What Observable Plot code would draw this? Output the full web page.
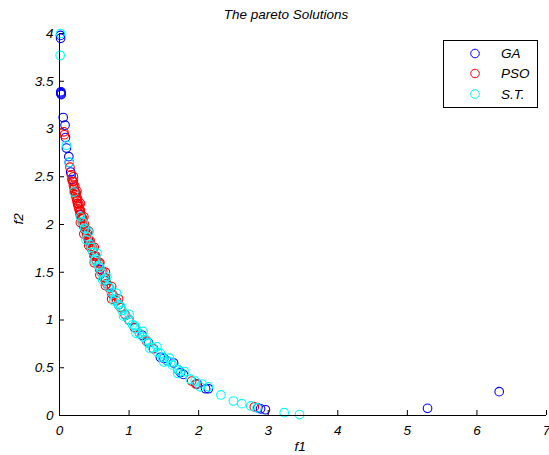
<!DOCTYPE html>
<html>
<head>
<meta charset="utf-8">
<script src="https://cdn.jsdelivr.net/npm/d3@7"></script>
<script src="https://cdn.jsdelivr.net/npm/@observablehq/plot@0.6"></script>
<style>
  html, body { margin: 0; padding: 0; background: #fff; }
  #wrap { position: relative; width: 549px; height: 455px; font-family: "Liberation Sans", Arial, sans-serif; font-style: italic; }
  #title { position: absolute; top: 7px; left: 286px; transform: translateX(-50%); font-size: 13.5px; line-height: 16px; white-space: nowrap; color: #000; }
  #legend { position: absolute; left: 443px; top: 40px; }
</style>
</head>
<body>
<div id="wrap">
  <div id="chart"></div>
  <div id="title">The pareto Solutions</div>
  <div id="legend"></div>
</div>
<script>
// ---- data (f1, f2) ----
const xTicks = [0, 1, 2, 3, 4, 5, 6, 7];
const yTicks = [0, 0.5, 1, 1.5, 2, 2.5, 3, 3.5, 4];
const seriesNames = ["GA", "PSO", "S.T."];
const seriesColors = ["#0000ff", "#ff0000", "#00ffff"];

const gaPoints = [
  [0.014, 3.98], [0.016, 3.95], [0.02, 3.39], [0.022, 3.37], [0.025, 3.36],
  [0.018, 3.38], [0.053, 3.12], [0.08, 3.04], [0.086, 2.91], [0.1, 2.80], [0.134, 2.71],
  [0.14, 2.65], [0.16, 2.55], [0.18, 2.47], [0.22, 2.34], [0.26, 2.22],
  [0.3, 2.10], [0.36, 1.96], [0.42, 1.83], [0.5, 1.67], [0.58, 1.53],
  [0.66, 1.41], [0.75, 1.28], [0.85, 1.16], [0.95, 1.05], [1.0, 1.0],
  [1.08, 0.92], [1.19, 0.84], [1.28, 0.76], [1.35, 0.70], [1.45, 0.61],
  [1.5, 0.60], [1.55, 0.57], [1.64, 0.55], [1.7, 0.48], [1.74, 0.45], [1.78, 0.43],
  [1.98, 0.33], [2.1, 0.28], [2.14, 0.28], [2.85, 0.08], [2.89, 0.07],
  [2.96, 0.06], [5.29, 0.075], [6.32, 0.25]
];

const psoPoints = [
  [0.062, 2.97], [0.07, 2.94], [0.15, 2.60], [0.17, 2.52], [0.19, 2.45],
  [0.2, 2.41], [0.2, 2.45], [0.2, 2.50], [0.21, 2.38], [0.22, 2.34], [0.22, 2.40],
  [0.23, 2.31], [0.24, 2.28], [0.24, 2.33], [0.25, 2.25], [0.25, 2.35], [0.26, 2.22],
  [0.26, 2.27], [0.27, 2.19], [0.28, 2.16], [0.28, 2.21], [0.29, 2.14],
  [0.3, 2.11], [0.3, 2.15], [0.3, 2.22], [0.3, 2.02], [0.31, 2.08], [0.32, 2.06], [0.33, 2.03],
  [0.33, 2.07], [0.34, 2.01], [0.35, 1.98], [0.35, 2.08], [0.35, 1.90], [0.36, 2.00], [0.37, 1.94],
  [0.39, 1.89], [0.4, 1.91], [0.41, 1.85], [0.42, 1.93], [0.42, 1.78], [0.43, 1.81], [0.44, 1.83],
  [0.45, 1.77], [0.47, 1.73], [0.48, 1.75], [0.5, 1.67], [0.5, 1.76], [0.5, 1.60], [0.52, 1.67],
  [0.53, 1.62], [0.56, 1.57], [0.57, 1.59], [0.58, 1.60], [0.58, 1.47], [0.6, 1.50], [0.62, 1.51],
  [0.64, 1.44], [0.66, 1.44], [0.66, 1.50], [0.66, 1.36], [0.68, 1.38], [0.72, 1.33],
  [0.75, 1.35], [0.75, 1.22], [0.77, 1.26], [0.82, 1.20], [0.85, 1.22], [0.88, 1.13],
  [0.94, 1.06], [1.0, 1.00], [1.08, 0.92], [1.15, 0.86], [1.25, 0.78], [1.35, 0.70],
  [1.9, 0.36], [1.96, 0.33], [2.8, 0.09]
];

const stPoints = [
  [0.014, 4.0], [0.01, 3.77], [0.1, 2.83], [0.14, 2.65], [0.205, 2.34],
  [0.3, 2.08], [0.32, 2.03], [0.34, 2.02], [0.36, 1.96], [0.38, 1.84], [0.4, 1.87],
  [0.42, 1.92], [0.44, 1.79], [0.46, 1.76], [0.48, 1.71], [0.5, 1.62], [0.52, 1.64],
  [0.54, 1.70], [0.56, 1.57], [0.58, 1.55], [0.6, 1.50], [0.62, 1.42], [0.65, 1.43],
  [0.68, 1.45], [0.7, 1.35], [0.72, 1.34], [0.75, 1.29], [0.78, 1.20], [0.8, 1.22],
  [0.82, 1.28], [0.85, 1.16], [0.88, 1.14], [0.9, 1.10], [0.92, 1.04],
  [0.95, 1.05], [1.0, 1.0], [1.0, 1.06], [1.05, 0.95], [1.08, 0.94], [1.1, 0.91], [1.1, 0.86],
  [1.15, 0.86], [1.2, 0.82], [1.2, 0.88], [1.25, 0.79], [1.27, 0.76], [1.3, 0.70], [1.34, 0.71],
  [1.4, 0.72], [1.41, 0.66], [1.45, 0.65], [1.48, 0.61], [1.5, 0.56], [1.55, 0.57],
  [1.58, 0.60], [1.6, 0.56], [1.62, 0.53], [1.7, 0.48], [1.7, 0.44], [1.74, 0.46],
  [1.8, 0.46], [1.88, 0.38], [1.95, 0.36], [2.02, 0.30], [2.05, 0.33], [2.14, 0.30],
  [2.32, 0.215], [2.5, 0.152], [2.62, 0.124], [2.75, 0.10], [2.84, 0.08],
  [3.23, 0.03], [3.45, 0.01]
];

// ---- chart ----
const W = 549, H = 455;
const mL = 59, mR = 3, mT = 33, mB = 40;
const plotW = W - mL - mR, plotH = H - mT - mB;
const tickLen = 5;
const R = 4.3;

const chart = Plot.plot({
  width: W, height: H,
  marginLeft: mL, marginRight: mR, marginTop: mT, marginBottom: mB,
  style: { fontFamily: "'Liberation Sans', Arial, sans-serif", fontSize: "13.5px", fontStyle: "italic", background: "#fff", color: "#000" },
  x: { domain: [0, 7] },
  y: { domain: [0, 4] },
  marks: [
    Plot.axisX(xTicks, { tickSize: 0, tickPadding: 10, label: null, tickFormat: d => String(d), fill: "#000" }),
    Plot.axisY(yTicks, { tickSize: 0, tickPadding: 6, label: null, tickFormat: d => String(d), fill: "#000" }),
    Plot.tickX(xTicks, { x: d => d, insetTop: plotH - tickLen, stroke: "#000" }),
    Plot.tickY(yTicks, { y: d => d, insetRight: plotW - tickLen, stroke: "#000" }),
    Plot.dot(gaPoints, { x: d => d[0], y: d => d[1], r: R, stroke: seriesColors[0], fill: "none", strokeWidth: 1.1 }),
    Plot.dot(psoPoints, { x: d => d[0], y: d => d[1], r: R, stroke: seriesColors[1], fill: "none", strokeWidth: 1.1 }),
    Plot.dot(stPoints, { x: d => d[0], y: d => d[1], r: R, stroke: seriesColors[2], fill: "none", strokeWidth: 1.1 }),
    Plot.ruleY([0], { stroke: "#000" }),
    Plot.ruleX([0], { stroke: "#000" }),
    Plot.text(["f1"], { text: d => d, frameAnchor: "bottom", dy: 35, dx: -3, fill: "#000" }),
    Plot.text(["f2"], { text: d => d, frameAnchor: "left", dx: -41, rotate: -90, fill: "#000" })
  ]
});
document.getElementById("chart").appendChild(chart);

// ---- legend ----
const lw = 95, lh = 68;
const lsvg = d3.select("#legend").append("svg").attr("width", lw).attr("height", lh);
lsvg.append("rect").attr("x", 0.5).attr("y", 0.5).attr("width", lw - 1).attr("height", lh - 1)
  .attr("fill", "#fff").attr("stroke", "#000");
const rowY = [13.5, 33.5, 54];
seriesNames.forEach((name, i) => {
  lsvg.append("circle").attr("cx", 32).attr("cy", rowY[i]).attr("r", R)
    .attr("fill", "none").attr("stroke", seriesColors[i]);
  lsvg.append("text").attr("x", 58).attr("y", rowY[i]).attr("dy", "0.35em")
    .attr("font-family", "'Liberation Sans', Arial, sans-serif").attr("font-style", "italic")
    .attr("font-size", "13.5px").attr("fill", "#000").text(name);
});
</script>
</body>
</html>
